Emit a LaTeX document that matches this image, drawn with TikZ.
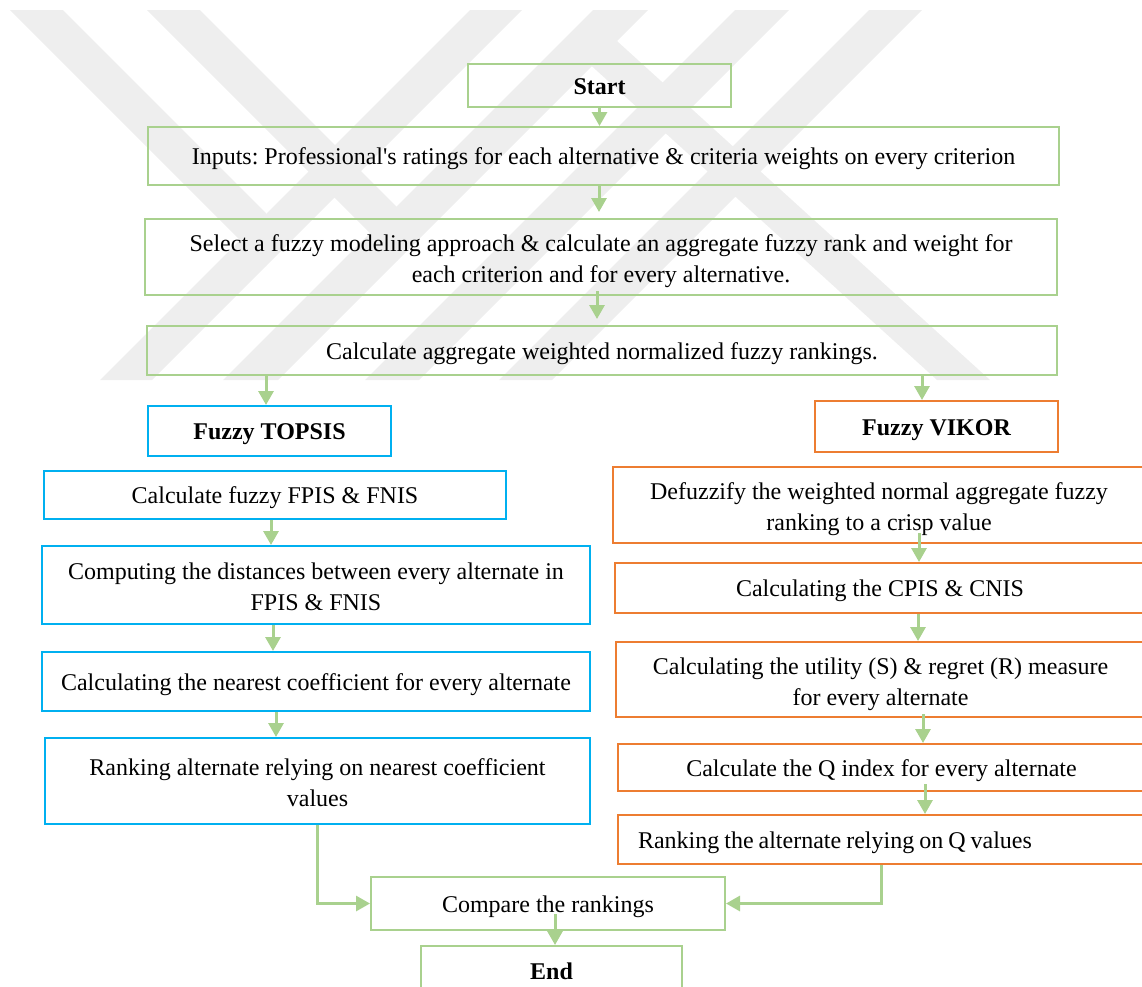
\documentclass[tikz,border=0pt]{standalone}
\usepackage{fontspec}
\setmainfont{Liberation Serif}
\newfontfamily\plainser{Liberation Serif}
\usetikzlibrary{arrows.meta,calc}
\definecolor{gbox}{HTML}{A9D18E}
\definecolor{bbox}{HTML}{00B0F0}
\definecolor{obox}{HTML}{ED7D31}
\definecolor{wm}{HTML}{EEEEEE}
\newcommand{\aps}{{\plainser'}}
\begin{document}
\begin{tikzpicture}[x=1pt,y=-1pt,
  box/.style={draw, line width=2pt, inner sep=0pt, align=center,
    font=\fontsize{24}{31}\selectfont\frenchspacing,
    execute at begin node={\rule[-5.2pt]{0pt}{27.6pt}},
    execute at end node={\rule[-5.2pt]{0pt}{5.2pt}}},
  ml/.style={execute at begin node={\rule[-5.2pt]{0pt}{62pt}}},
  gbx/.style={box, draw=gbox},
  bbx/.style={box, draw=bbox},
  obx/.style={box, draw=obox},
  arr/.style={draw=gbox, line width=3pt, -{Triangle[length=14pt,width=15pt]}},
  wmk/.style={fill=wm, draw=none}]
\useasboundingbox (0,0) rectangle (1142,986);
\clip (0,0) rectangle (1142,986);
% watermark
\fill[wmk] (10,10) -- (63,10) -- (266,213) -- (266,266) -- cycle;
\fill[wmk] (147,10) -- (200,10) -- (396.5,206.5) -- (397.5,260.5) -- cycle;
\fill[wmk] (470,10) -- (522,10) -- (152,380) -- (100,380) -- cycle;
\fill[wmk] (593,10) -- (648,10) -- (278,380) -- (223,380) -- cycle;
\fill[wmk] (735,10) -- (789,10) -- (419,380) -- (365,380) -- cycle;
\fill[wmk] (869,10) -- (922,10) -- (552,380) -- (499,380) -- cycle;
\fill[wmk] (585,60) -- (617,41) -- (990,380) -- (937,380) -- cycle;
% boxes
\node[gbx, minimum width=263pt, minimum height=43pt] (start) at (599.5,85.5) {\bfseries Start};
\node[gbx, minimum width=911pt, minimum height=58pt] (inputs) at (603.5,156) {Inputs: Professional\aps s ratings for each alternative \& criteria weights on every criterion};
\node[gbx, ml, minimum width=912pt, minimum height=76pt] (select) at (601,257) {Select a fuzzy modeling approach \& calculate an aggregate fuzzy rank and weight for\\ each criterion and for every alternative.};
\node[gbx, minimum width=910pt, minimum height=49pt] (aggr) at (602,350.5) {Calculate aggregate weighted normalized fuzzy rankings.};
\node[bbx, minimum width=243pt, minimum height=50pt] (topsis) at (269.5,431) {\bfseries Fuzzy TOPSIS};
\node[obx, minimum width=243pt, minimum height=51pt] (vikor) at (936.5,426.5) {\bfseries Fuzzy VIKOR};
\node[bbx, minimum width=462pt, minimum height=48pt] (t1) at (275,495) {Calculate fuzzy FPIS \& FNIS};
\node[bbx, ml, minimum width=548pt, minimum height=78pt] (t2) at (316,585) {Computing the distances between every alternate in\\ FPIS \& FNIS};
\node[bbx, minimum width=548pt, minimum height=59pt] (t3) at (316,681.5) {Calculating the nearest coefficient for every alternate};
\node[bbx, ml, minimum width=545pt, minimum height=86pt] (t4) at (317.5,781) {Ranking alternate relying on nearest coefficient\\ values};
\node[obx, ml, minimum width=532pt, minimum height=76pt] (v1) at (879,505) {Defuzzify the weighted normal aggregate fuzzy\\ ranking to a crisp value};
\node[obx, minimum width=530pt, minimum height=50pt] (v2) at (880,588) {Calculating the CPIS \& CNIS};
\node[obx, ml, minimum width=529pt, minimum height=75pt] (v3) at (880.5,679.5) {Calculating the utility (S) \& regret (R) measure\\ for every alternate};
\node[obx, minimum width=527pt, minimum height=47pt] (v4) at (881.5,767.5) {Calculate the Q index for every alternate};
\node[obx, minimum width=527pt, minimum height=49pt, text width=487pt, inner xsep=20pt, align=left] (v5) at (881.5,839.5) {\mbox{\spaceskip=5pt Ranking the alternate relying on Q values}};
\node[gbx, minimum width=354pt, minimum height=53pt] (compare) at (548,903.5) {Compare the rankings};
\node[gbx, minimum width=261pt, minimum height=50pt] (end) at (551.5,971) {\bfseries End};
% arrows
\draw[arr] (start.south) -- (start.south |- inputs.north);
\coordinate (a2) at ($(inputs.south)+(-4.5,0)$);
\draw[arr, shorten >=6pt] (a2) -- (a2 |- select.north);
\coordinate (a3) at ($(select.south)+(-4,-5)$);
\draw[arr, shorten >=6pt] (a3) -- (a3 |- aggr.north);
\coordinate (a4) at ($(topsis.north)+(-3.5,0)$);
\draw[arr] (a4 |- aggr.south) -- (a4);
\coordinate (a5) at ($(vikor.north)+(-14.5,0)$);
\draw[arr] (a5 |- aggr.south) -- (a5);
\coordinate (b1) at ($(t1.south)+(-4,0)$);
\draw[arr] (b1) -- (b1 |- t2.north);
\coordinate (b2) at ($(t2.south)+(-43,0)$);
\draw[arr] (b2) -- (b2 |- t3.north);
\coordinate (b3) at ($(t3.south)+(-40,0)$);
\draw[arr] (b3) -- (b3 |- t4.north);
\coordinate (c1) at ($(v1.south)+(40,-11)$);
\draw[arr] (c1) -- (c1 |- v2.north);
\coordinate (c2) at ($(v2.south)+(38,0)$);
\draw[arr] (c2) -- (c2 |- v3.north);
\coordinate (c3) at ($(v3.south)+(42.5,-4)$);
\draw[arr] (c3) -- (c3 |- v4.north);
\coordinate (c4) at ($(v4.south)+(43.5,-8)$);
\draw[arr] (c4) -- (c4 |- v5.north);
\draw[arr] (t4.south) |- (compare.west);
\draw[arr] (v5.south) |- (compare.east);
\coordinate (d1) at ($(end.north)+(3.5,-31)$);
\draw[arr] (d1) -- (d1 |- end.north);
\end{tikzpicture}
\end{document}
